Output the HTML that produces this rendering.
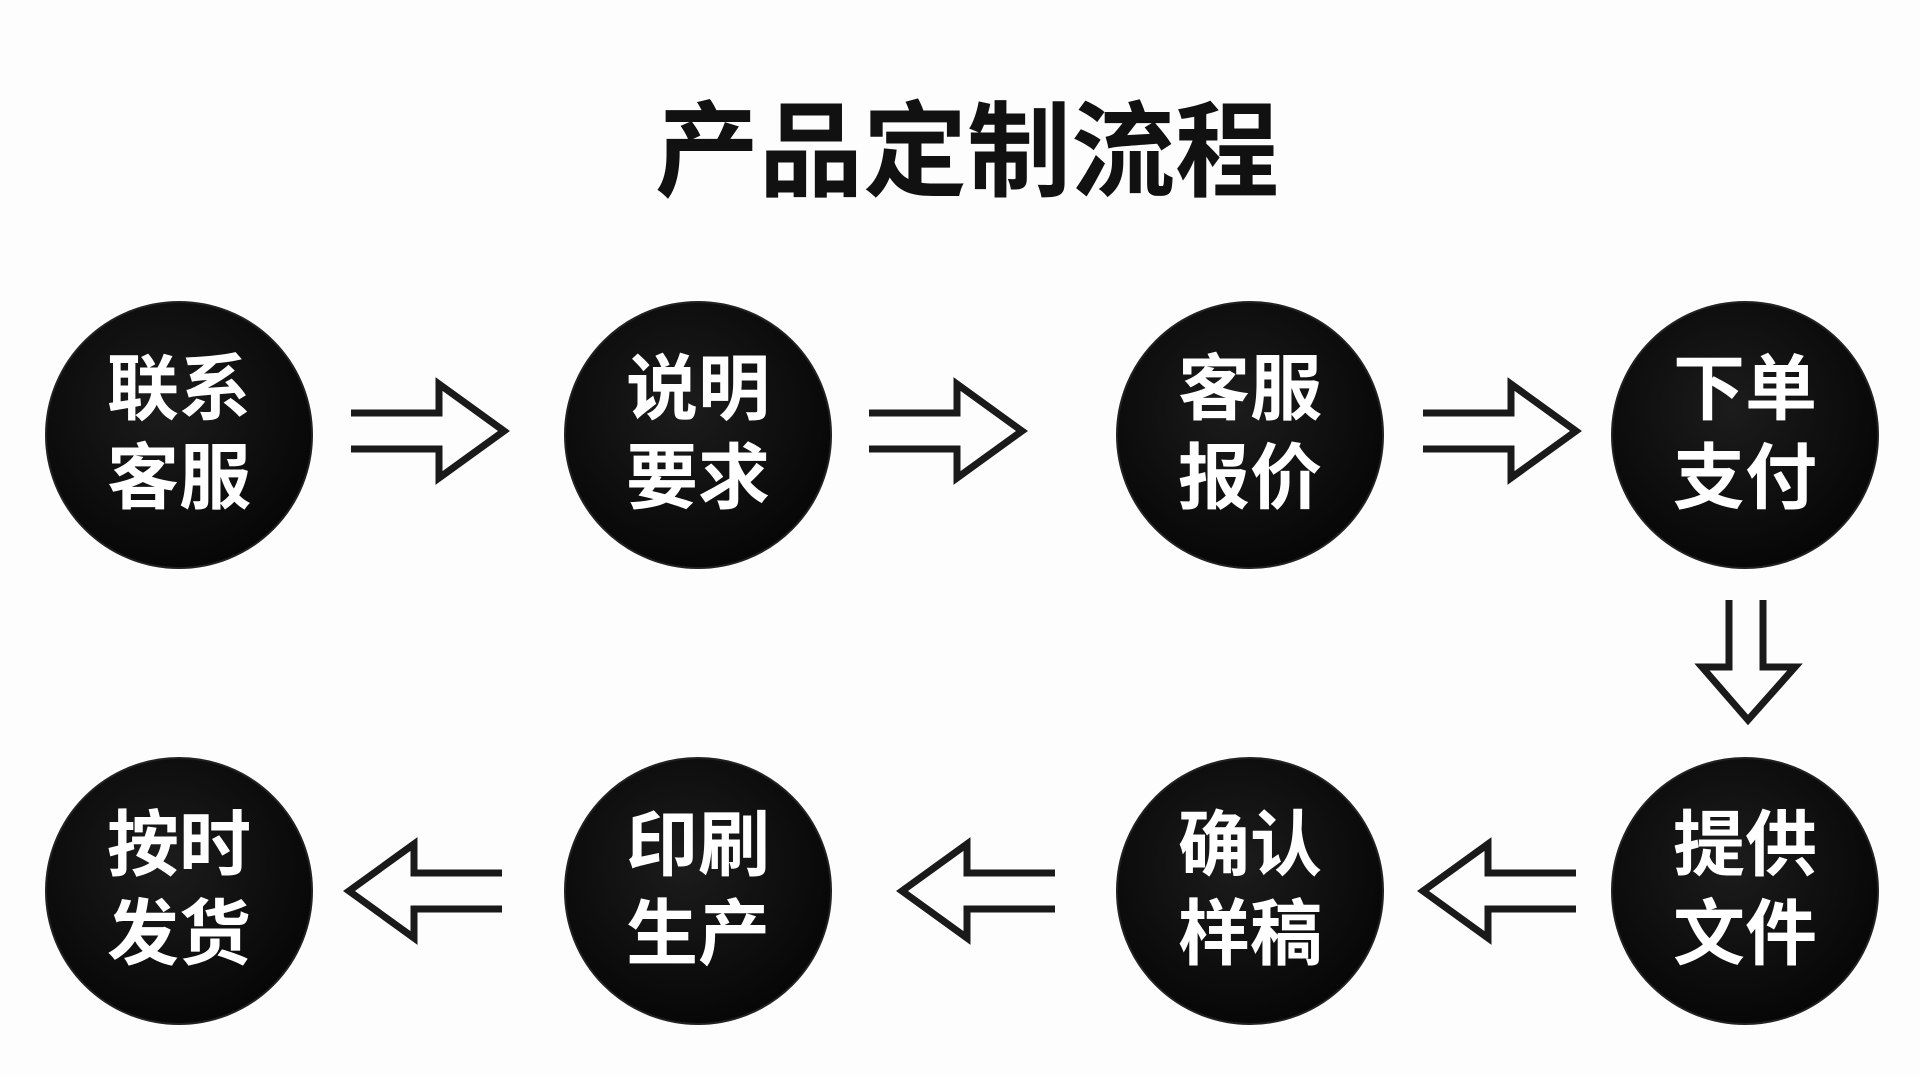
<!DOCTYPE html>
<html><head><meta charset="utf-8"><style>
html,body{margin:0;padding:0;background:#fdfdfd;}
svg{display:block}
text{font-family:"Liberation Sans","Noto Sans CJK SC",sans-serif;font-weight:bold}
</style></head><body>
<svg width="1920" height="1075" viewBox="0 0 1920 1075" xmlns="http://www.w3.org/2000/svg">
<defs>
<g id="ar"><polyline points="0,29 88,29 88,0 153,47 88,94 88,65 0,65" fill="none" stroke="#1a1a1a" stroke-width="7" stroke-linejoin="miter"/></g>
<radialGradient id="cg" cx="0.45" cy="0.4" r="0.65"><stop offset="0" stop-color="#1c1c1c"/><stop offset="1" stop-color="#050505"/></radialGradient>
</defs>
<text x="967" y="188" font-size="104" text-anchor="middle" fill="#111">产品定制流程</text>
<g fill="url(#cg)" stroke="#222" stroke-width="2">
<circle cx="179" cy="435" r="133"/><circle cx="698" cy="435" r="133"/><circle cx="1250" cy="435" r="133"/><circle cx="1745" cy="435" r="133"/>
<circle cx="179" cy="891" r="133"/><circle cx="698" cy="891" r="133"/><circle cx="1250" cy="891" r="133"/><circle cx="1745" cy="891" r="133"/>
</g>
<g fill="#fff" font-size="72" text-anchor="middle">
<text x="179" y="414">联系</text><text x="179" y="503">客服</text>
<text x="698" y="414">说明</text><text x="698" y="503">要求</text>
<text x="1250" y="414">客服</text><text x="1250" y="503">报价</text>
<text x="1745" y="414">下单</text><text x="1745" y="503">支付</text>
<text x="179" y="870">按时</text><text x="179" y="959">发货</text>
<text x="698" y="870">印刷</text><text x="698" y="959">生产</text>
<text x="1250" y="870">确认</text><text x="1250" y="959">样稿</text>
<text x="1745" y="870">提供</text><text x="1745" y="959">文件</text>
</g>
<use href="#ar" transform="translate(351,384)"/>
<use href="#ar" transform="translate(869,384)"/>
<use href="#ar" transform="translate(1423,384)"/>
<use href="#ar" transform="translate(502,844) scale(-1,1)"/>
<use href="#ar" transform="translate(1055,844) scale(-1,1)"/>
<use href="#ar" transform="translate(1576,844) scale(-1,1)"/>
<polyline points="1729,600 1729,667 1702,667 1748,720 1795,667 1763,667 1763,600" fill="none" stroke="#1a1a1a" stroke-width="7"/>
</svg>
</body></html>
